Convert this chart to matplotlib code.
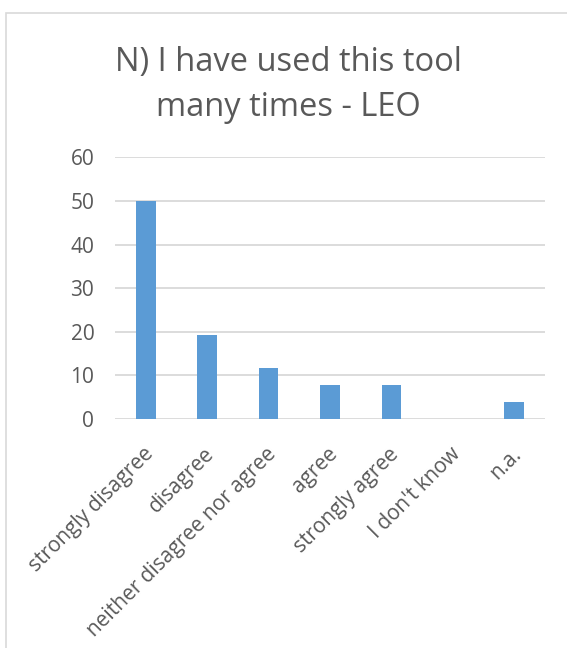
import matplotlib.pyplot as plt
from matplotlib.patches import Rectangle
from matplotlib.transforms import ScaledTranslation

plt.rcParams['font.family'] = ['Open Sans', 'DejaVu Sans']

# data
categories = ['strongly disagree', 'disagree', 'neither disagree nor agree',
              'agree', 'strongly agree', "I don't know", 'n.a.']
values = [50.0, 19.23, 11.54, 7.69, 7.69, 0.0, 3.85]
title = 'N) I have used this tool\nmany times - LEO'

fig = plt.figure(figsize=(5.67, 6.48), dpi=100)
ax = fig.add_axes([0.203, 0.354, 0.758, 0.403])

# outer chart frame (cut off at the right/bottom)
fig.patches.append(Rectangle((6/567, -0.1), 1.2, 1 - 13/648 + 0.1,
                             transform=fig.transFigure, fill=False,
                             edgecolor='#d9d9d9', linewidth=1.2))

x = range(len(categories))
ax.bar(x, values, width=0.32, color='#5b9bd5', zorder=3)

ax.set_ylim(0, 60)
ax.set_xlim(-0.5, len(categories) - 0.5)
ax.set_yticks(range(0, 61, 10))
ax.yaxis.grid(True, color='#d9d9d9', linewidth=1.3, zorder=0)
for s in ax.spines.values():
    s.set_visible(False)

ax.tick_params(axis='y', length=0, pad=15, labelsize=15, labelcolor='#595959')
ax.tick_params(axis='x', length=0, pad=18, labelsize=15, labelcolor='#595959')
ax.set_xticks(list(x))
ax.set_xticklabels(categories, rotation=45, ha='right', rotation_mode='anchor')
# nudge the slanted labels a little to the left
shift = ScaledTranslation(-3/100, 0, fig.dpi_scale_trans)
for lab in ax.get_xticklabels():
    lab.set_transform(lab.get_transform() + shift)

fig.text(0.509, 0.869, title, ha='center', va='center', fontsize=23.5,
         color='#595959', linespacing=1.45)

fig.savefig('out.png', dpi=100)
